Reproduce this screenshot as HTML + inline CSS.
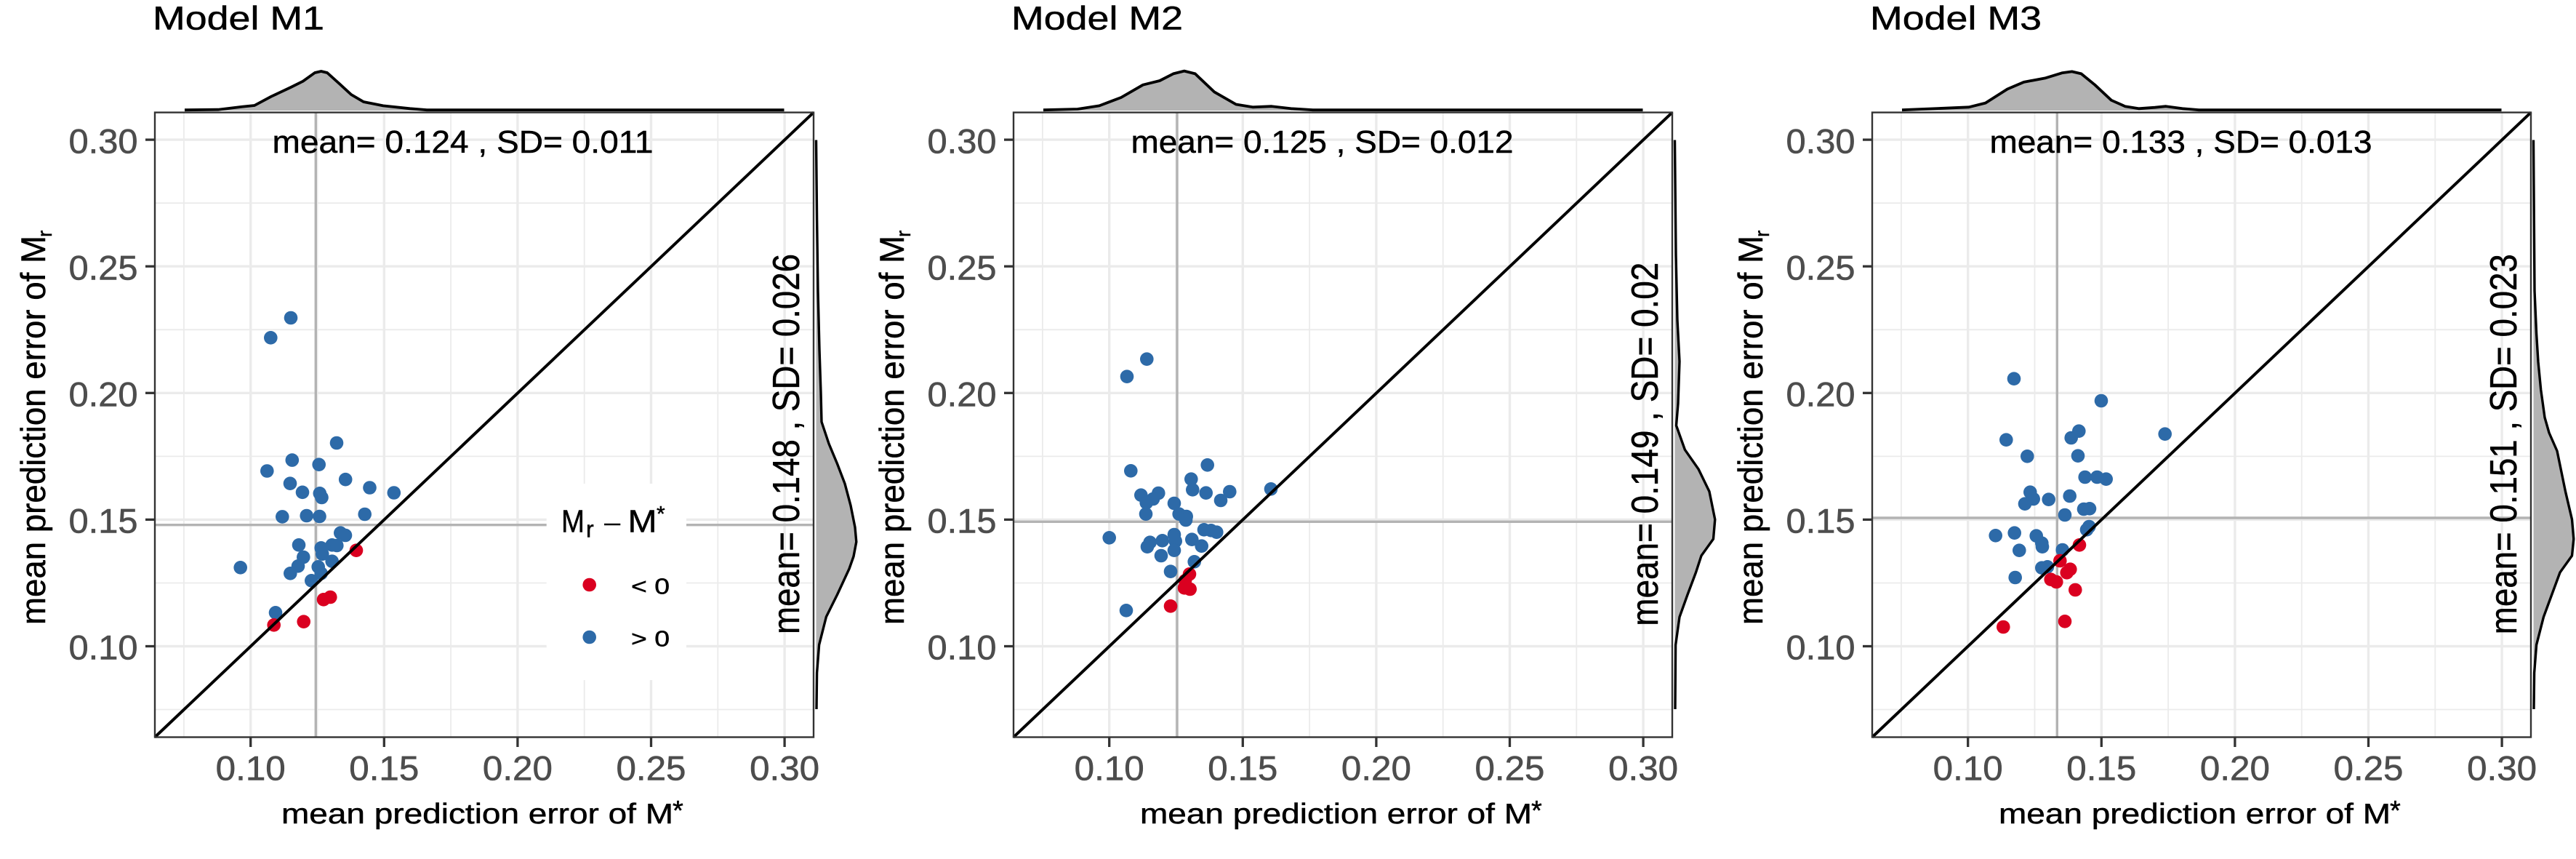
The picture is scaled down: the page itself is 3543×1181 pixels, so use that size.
<!DOCTYPE html>
<html><head><meta charset="utf-8">
<style>html,body{margin:0;padding:0;background:#fff}svg{display:block}</style>
</head>
<body>
<svg width="3543" height="1181" viewBox="0 0 3543 1181" xmlns="http://www.w3.org/2000/svg" font-family="'Liberation Sans', Arial, sans-serif">
<rect width="3543" height="1181" fill="#fff"/>

<!-- ================= PANEL 1 ================= -->
<g transform="translate(0,0)">
  <g stroke="#EBEBEB" stroke-width="1.8">
    <line x1="252.9" y1="154.6" x2="252.9" y2="1013.5"/><line x1="436.5" y1="154.6" x2="436.5" y2="1013.5"/><line x1="620.1" y1="154.6" x2="620.1" y2="1013.5"/><line x1="803.7" y1="154.6" x2="803.7" y2="1013.5"/><line x1="987.3" y1="154.6" x2="987.3" y2="1013.5"/>
    <line x1="213" y1="975.5" x2="1119" y2="975.5"/><line x1="213" y1="801.5" x2="1119" y2="801.5"/><line x1="213" y1="627.4" x2="1119" y2="627.4"/><line x1="213" y1="453.3" x2="1119" y2="453.3"/><line x1="213" y1="279.2" x2="1119" y2="279.2"/>
  </g>
  <g stroke="#EBEBEB" stroke-width="3.4">
    <line x1="344.7" y1="154.6" x2="344.7" y2="1013.5"/><line x1="528.3" y1="154.6" x2="528.3" y2="1013.5"/><line x1="711.9" y1="154.6" x2="711.9" y2="1013.5"/><line x1="895.5" y1="154.6" x2="895.5" y2="1013.5"/><line x1="1079.1" y1="154.6" x2="1079.1" y2="1013.5"/>
    <line x1="213" y1="888.5" x2="1119" y2="888.5"/><line x1="213" y1="714.4" x2="1119" y2="714.4"/><line x1="213" y1="540.3" x2="1119" y2="540.3"/><line x1="213" y1="366.2" x2="1119" y2="366.2"/><line x1="213" y1="192.1" x2="1119" y2="192.1"/>
  </g>
  <g stroke="#B3B3B3" stroke-width="3.4">
    <line x1="434.3" y1="154.6" x2="434.3" y2="1013.5"/>
    <line x1="213" y1="721.7" x2="1119" y2="721.7"/>
  </g>
  <g fill="#2D6AA8">
    <circle cx="400" cy="437" r="9.3"/><circle cx="372.3" cy="464.3" r="9.3"/><circle cx="463" cy="609" r="9.3"/><circle cx="401.8" cy="632.6" r="9.3"/><circle cx="438.7" cy="638.7" r="9.3"/><circle cx="367.3" cy="647.5" r="9.3"/><circle cx="475.2" cy="659.2" r="9.3"/><circle cx="399" cy="664.7" r="9.3"/><circle cx="416" cy="676.8" r="9.3"/><circle cx="439.8" cy="678.3" r="9.3"/><circle cx="442.5" cy="684" r="9.3"/><circle cx="508.5" cy="670.5" r="9.3"/><circle cx="541.8" cy="677.5" r="9.3"/><circle cx="388.3" cy="710.4" r="9.3"/><circle cx="421.7" cy="709" r="9.3"/><circle cx="439.5" cy="710" r="9.3"/><circle cx="501.7" cy="707" r="9.3"/><circle cx="468.3" cy="732.7" r="9.3"/><circle cx="475" cy="736" r="9.3"/><circle cx="411" cy="749.3" r="9.3"/><circle cx="441.7" cy="753.3" r="9.3"/><circle cx="456.7" cy="749.3" r="9.3"/><circle cx="463.3" cy="750" r="9.3"/><circle cx="417.3" cy="766" r="9.3"/><circle cx="456.7" cy="771.7" r="9.3"/><circle cx="443.3" cy="761.7" r="9.3"/><circle cx="410" cy="778.3" r="9.3"/><circle cx="437.7" cy="779.3" r="9.3"/><circle cx="330.7" cy="780.3" r="9.3"/><circle cx="399.3" cy="788.3" r="9.3"/><circle cx="441.7" cy="788.3" r="9.3"/><circle cx="428.3" cy="798.3" r="9.3"/><circle cx="379" cy="842.3" r="9.3"/>
  </g>
  <g fill="#DA0020">
    <circle cx="490" cy="756.7" r="9.3"/><circle cx="445" cy="824.3" r="9.3"/><circle cx="454.3" cy="821" r="9.3"/><circle cx="376.7" cy="859.3" r="9.3"/><circle cx="417.7" cy="854.7" r="9.3"/>
  </g>
  <line x1="213" y1="1013.5" x2="1119" y2="154.6" stroke="#000" stroke-width="4"/>
  <rect x="213" y="154.6" width="906" height="858.9" fill="none" stroke="#333" stroke-width="2.4"/>
  <g stroke="#333" stroke-width="3.3">
    <line x1="200" y1="888.5" x2="213" y2="888.5"/><line x1="200" y1="714.4" x2="213" y2="714.4"/><line x1="200" y1="540.3" x2="213" y2="540.3"/><line x1="200" y1="366.2" x2="213" y2="366.2"/><line x1="200" y1="192.1" x2="213" y2="192.1"/>
    <line x1="344.7" y1="1013.5" x2="344.7" y2="1027"/><line x1="528.3" y1="1013.5" x2="528.3" y2="1027"/><line x1="711.9" y1="1013.5" x2="711.9" y2="1027"/><line x1="895.5" y1="1013.5" x2="895.5" y2="1027"/><line x1="1079.1" y1="1013.5" x2="1079.1" y2="1027"/>
  </g>
  <g fill="#4D4D4D" stroke="#4D4D4D" stroke-width="0.6" font-size="47">
    <text x="189.5" y="906.7" text-anchor="end" textLength="95" lengthAdjust="spacingAndGlyphs">0.10</text>
    <text x="189.5" y="732.6" text-anchor="end" textLength="95" lengthAdjust="spacingAndGlyphs">0.15</text>
    <text x="189.5" y="558.5" text-anchor="end" textLength="95" lengthAdjust="spacingAndGlyphs">0.20</text>
    <text x="189.5" y="384.4" text-anchor="end" textLength="95" lengthAdjust="spacingAndGlyphs">0.25</text>
    <text x="189.5" y="210.5" text-anchor="end" textLength="95" lengthAdjust="spacingAndGlyphs">0.30</text>
    <text x="344.7" y="1072.5" text-anchor="middle" textLength="96" lengthAdjust="spacingAndGlyphs">0.10</text>
    <text x="528.3" y="1072.5" text-anchor="middle" textLength="96" lengthAdjust="spacingAndGlyphs">0.15</text>
    <text x="711.9" y="1072.5" text-anchor="middle" textLength="96" lengthAdjust="spacingAndGlyphs">0.20</text>
    <text x="895.5" y="1072.5" text-anchor="middle" textLength="96" lengthAdjust="spacingAndGlyphs">0.25</text>
    <text x="1079.1" y="1072.5" text-anchor="middle" textLength="96" lengthAdjust="spacingAndGlyphs">0.30</text>
  </g>
  <g fill="#000" stroke="#000" stroke-width="0.5">
  <text x="387" y="1132" font-size="39" textLength="539" lengthAdjust="spacingAndGlyphs">mean prediction error of M</text>
  <text x="925" y="1127" font-size="38">*</text>
  <text transform="translate(62,859) rotate(-90)" font-size="47" textLength="535" lengthAdjust="spacingAndGlyphs">mean prediction error of M</text>
  <text transform="translate(71,326) rotate(-90)" font-size="28">r</text>
  <text x="210" y="40.7" font-size="45" textLength="236" lengthAdjust="spacingAndGlyphs">Model M1</text>
  <text x="636.5" y="210" font-size="44" text-anchor="middle" textLength="524" lengthAdjust="spacingAndGlyphs">mean= 0.124 , SD= 0.011</text>
  <text transform="translate(1099,610.5) rotate(-90)" font-size="52" text-anchor="middle" textLength="523" lengthAdjust="spacingAndGlyphs">mean= 0.148 , SD= 0.026</text>
  </g>
  <path d="M254,152 L300,150.7 L333,146.7 L350,145 L373,132.7 L400,120 L416.7,111.7 L433,100 L441.7,98 L450,100 L466.7,115 L483,130 L500,140 L527,145.4 L564,149.3 L587,151.2 L1078.5,151.2 L1078.5,152 Z" fill="#B3B3B3"/>
  <polyline points="254,151.2 300,150.7 333,146.7 350,145 373,132.7 400,120 416.7,111.7 433,100 441.7,98 450,100 466.7,115 483,130 500,140 527,145.4 564,149.3 587,151.2 1078.5,151.2" fill="none" stroke="#000" stroke-width="3.8" stroke-linejoin="round"/>
  <path d="M1122.5,192.5 L1123.6,300 L1125,400 L1127,480 L1129,540 L1130,580 L1140,610 L1151.5,637.5 L1162,665 L1170,695 L1176,725 L1177.8,745 L1174,765 L1168,782 L1151.5,817.6 L1136.4,848 L1126.6,886.6 L1123.6,925 L1123,975 L1122.5,975 Z" fill="#B3B3B3"/>
  <polyline points="1122.5,192.5 1123.6,300 1125,400 1127,480 1129,540 1130,580 1140,610 1151.5,637.5 1162,665 1170,695 1176,725 1177.8,745 1174,765 1168,782 1151.5,817.6 1136.4,848 1126.6,886.6 1123.6,925 1123,975" fill="none" stroke="#000" stroke-width="3.4" stroke-linejoin="round"/>
  <!-- legend -->
  <rect x="751.7" y="665" width="192.3" height="270" fill="#fff"/>
  <g fill="#000" stroke="#000" stroke-width="0.5">
  <text x="772" y="731.7" font-size="44" textLength="32" lengthAdjust="spacingAndGlyphs">M</text>
  <text x="806" y="738.3" font-size="32">r</text>
  <text x="863.5" y="731.7" font-size="44" textLength="40" lengthAdjust="spacingAndGlyphs">M</text>
  <text x="903" y="716.5" font-size="30">*</text>
  <text x="868" y="816.7" font-size="31" textLength="53" lengthAdjust="spacingAndGlyphs">&lt; 0</text>
  <text x="868" y="888.3" font-size="31" textLength="53" lengthAdjust="spacingAndGlyphs">&gt; 0</text>
  </g>
  <line x1="831" y1="721" x2="853.3" y2="721" stroke="#000" stroke-width="2.6"/>
  <circle cx="810.7" cy="804" r="9.3" fill="#DA0020"/>
  <circle cx="810.7" cy="876" r="9.3" fill="#2D6AA8"/>
</g>

<!-- ================= PANEL 2 ================= -->
<g transform="translate(1181,0)">
  <g stroke="#EBEBEB" stroke-width="1.8">
    <line x1="252.9" y1="154.6" x2="252.9" y2="1013.5"/><line x1="436.5" y1="154.6" x2="436.5" y2="1013.5"/><line x1="620.1" y1="154.6" x2="620.1" y2="1013.5"/><line x1="803.7" y1="154.6" x2="803.7" y2="1013.5"/><line x1="987.3" y1="154.6" x2="987.3" y2="1013.5"/>
    <line x1="213" y1="975.5" x2="1119" y2="975.5"/><line x1="213" y1="801.5" x2="1119" y2="801.5"/><line x1="213" y1="627.4" x2="1119" y2="627.4"/><line x1="213" y1="453.3" x2="1119" y2="453.3"/><line x1="213" y1="279.2" x2="1119" y2="279.2"/>
  </g>
  <g stroke="#EBEBEB" stroke-width="3.4">
    <line x1="344.7" y1="154.6" x2="344.7" y2="1013.5"/><line x1="528.3" y1="154.6" x2="528.3" y2="1013.5"/><line x1="711.9" y1="154.6" x2="711.9" y2="1013.5"/><line x1="895.5" y1="154.6" x2="895.5" y2="1013.5"/><line x1="1079.1" y1="154.6" x2="1079.1" y2="1013.5"/>
    <line x1="213" y1="888.5" x2="1119" y2="888.5"/><line x1="213" y1="714.4" x2="1119" y2="714.4"/><line x1="213" y1="540.3" x2="1119" y2="540.3"/><line x1="213" y1="366.2" x2="1119" y2="366.2"/><line x1="213" y1="192.1" x2="1119" y2="192.1"/>
  </g>
  <g stroke="#B3B3B3" stroke-width="3.4">
    <line x1="438" y1="154.6" x2="438" y2="1013.5"/>
    <line x1="213" y1="717.3" x2="1119" y2="717.3"/>
  </g>
  <g fill="#2D6AA8">
    <circle cx="396.3" cy="493.7" r="9.3"/><circle cx="369" cy="517.7" r="9.3"/><circle cx="374.3" cy="647.3" r="9.3"/><circle cx="479.7" cy="639.3" r="9.3"/><circle cx="457.3" cy="658.7" r="9.3"/><circle cx="459.3" cy="673.3" r="9.3"/><circle cx="477.7" cy="677.7" r="9.3"/><circle cx="510.3" cy="676" r="9.3"/><circle cx="498" cy="688" r="9.3"/><circle cx="567" cy="672.3" r="9.3"/><circle cx="388.3" cy="680.7" r="9.3"/><circle cx="412.3" cy="678" r="9.3"/><circle cx="405" cy="686" r="9.3"/><circle cx="395.7" cy="691.3" r="9.3"/><circle cx="395" cy="706.7" r="9.3"/><circle cx="434" cy="692" r="9.3"/><circle cx="440.7" cy="706.7" r="9.3"/><circle cx="450.7" cy="710" r="9.3"/><circle cx="450" cy="715" r="9.3"/><circle cx="344.7" cy="739.3" r="9.3"/><circle cx="475" cy="728.3" r="9.3"/><circle cx="484.7" cy="729.3" r="9.3"/><circle cx="492.3" cy="731.7" r="9.3"/><circle cx="434" cy="735" r="9.3"/><circle cx="435.7" cy="744" r="9.3"/><circle cx="400.7" cy="745.7" r="9.3"/><circle cx="397" cy="751.7" r="9.3"/><circle cx="417.7" cy="743.3" r="9.3"/><circle cx="458.3" cy="741.7" r="9.3"/><circle cx="471.7" cy="750.7" r="9.3"/><circle cx="434" cy="756.7" r="9.3"/><circle cx="416" cy="764" r="9.3"/><circle cx="461.7" cy="772.3" r="9.3"/><circle cx="429" cy="785.7" r="9.3"/><circle cx="368" cy="839.3" r="9.3"/>
  </g>
  <g fill="#DA0020">
    <circle cx="455" cy="789.3" r="9.3"/><circle cx="449" cy="798.3" r="9.3"/><circle cx="448" cy="808.3" r="9.3"/><circle cx="455.7" cy="810" r="9.3"/><circle cx="429" cy="833.3" r="9.3"/>
  </g>
  <line x1="213" y1="1013.5" x2="1119" y2="154.6" stroke="#000" stroke-width="4"/>
  <rect x="213" y="154.6" width="906" height="858.9" fill="none" stroke="#333" stroke-width="2.4"/>
  <g stroke="#333" stroke-width="3.3">
    <line x1="200" y1="888.5" x2="213" y2="888.5"/><line x1="200" y1="714.4" x2="213" y2="714.4"/><line x1="200" y1="540.3" x2="213" y2="540.3"/><line x1="200" y1="366.2" x2="213" y2="366.2"/><line x1="200" y1="192.1" x2="213" y2="192.1"/>
    <line x1="344.7" y1="1013.5" x2="344.7" y2="1027"/><line x1="528.3" y1="1013.5" x2="528.3" y2="1027"/><line x1="711.9" y1="1013.5" x2="711.9" y2="1027"/><line x1="895.5" y1="1013.5" x2="895.5" y2="1027"/><line x1="1079.1" y1="1013.5" x2="1079.1" y2="1027"/>
  </g>
  <g fill="#4D4D4D" stroke="#4D4D4D" stroke-width="0.6" font-size="47">
    <text x="189.5" y="906.7" text-anchor="end" textLength="95" lengthAdjust="spacingAndGlyphs">0.10</text>
    <text x="189.5" y="732.6" text-anchor="end" textLength="95" lengthAdjust="spacingAndGlyphs">0.15</text>
    <text x="189.5" y="558.5" text-anchor="end" textLength="95" lengthAdjust="spacingAndGlyphs">0.20</text>
    <text x="189.5" y="384.4" text-anchor="end" textLength="95" lengthAdjust="spacingAndGlyphs">0.25</text>
    <text x="189.5" y="210.5" text-anchor="end" textLength="95" lengthAdjust="spacingAndGlyphs">0.30</text>
    <text x="344.7" y="1072.5" text-anchor="middle" textLength="96" lengthAdjust="spacingAndGlyphs">0.10</text>
    <text x="528.3" y="1072.5" text-anchor="middle" textLength="96" lengthAdjust="spacingAndGlyphs">0.15</text>
    <text x="711.9" y="1072.5" text-anchor="middle" textLength="96" lengthAdjust="spacingAndGlyphs">0.20</text>
    <text x="895.5" y="1072.5" text-anchor="middle" textLength="96" lengthAdjust="spacingAndGlyphs">0.25</text>
    <text x="1079.1" y="1072.5" text-anchor="middle" textLength="96" lengthAdjust="spacingAndGlyphs">0.30</text>
  </g>
  <g fill="#000" stroke="#000" stroke-width="0.5">
  <text x="387" y="1132" font-size="39" textLength="539" lengthAdjust="spacingAndGlyphs">mean prediction error of M</text>
  <text x="925" y="1127" font-size="38">*</text>
  <text transform="translate(62,859) rotate(-90)" font-size="47" textLength="535" lengthAdjust="spacingAndGlyphs">mean prediction error of M</text>
  <text transform="translate(71,326) rotate(-90)" font-size="28">r</text>
  <text x="210" y="40.7" font-size="45" textLength="236" lengthAdjust="spacingAndGlyphs">Model M2</text>
  <text x="637.5" y="210" font-size="44" text-anchor="middle" textLength="526" lengthAdjust="spacingAndGlyphs">mean= 0.125 , SD= 0.012</text>
  <text transform="translate(1099,610.7) rotate(-90)" font-size="52" text-anchor="middle" textLength="500" lengthAdjust="spacingAndGlyphs">mean= 0.149 , SD= 0.02</text>
  </g>
  <path d="M254,152 L301,150 L331,145.4 L361,134 L391,116.7 L414,111 L432.7,101.4 L447.8,97.6 L462.8,101.4 L489,126.3 L519,143.5 L541.9,147.3 L568,146.2 L594.6,149.3 L624.7,151.2 L1078.5,151.2 L1078.5,152 Z" fill="#B3B3B3"/>
  <polyline points="254,151.2 301,150 331,145.4 361,134 391,116.7 414,111 432.7,101.4 447.8,97.6 462.8,101.4 489,126.3 519,143.5 541.9,147.3 568,146.2 594.6,149.3 624.7,151.2 1078.5,151.2" fill="none" stroke="#000" stroke-width="3.8" stroke-linejoin="round"/>
  <path d="M1122.5,192.5 L1124,350 L1126,440 L1129,497 L1127,555 L1124.5,585 L1136.4,618.3 L1155.2,645.2 L1170,675.8 L1177.8,714.2 L1175.5,741 L1159,764 L1151.5,787 L1140,817.6 L1129,848.3 L1123.6,886.6 L1123,975 L1122.5,975 Z" fill="#B3B3B3"/>
  <polyline points="1122.5,192.5 1124,350 1126,440 1129,497 1127,555 1124.5,585 1136.4,618.3 1155.2,645.2 1170,675.8 1177.8,714.2 1175.5,741 1159,764 1151.5,787 1140,817.6 1129,848.3 1123.6,886.6 1123,975" fill="none" stroke="#000" stroke-width="3.4" stroke-linejoin="round"/>
</g>

<!-- ================= PANEL 3 ================= -->
<g transform="translate(2362,0)">
  <g stroke="#EBEBEB" stroke-width="1.8">
    <line x1="252.9" y1="154.6" x2="252.9" y2="1013.5"/><line x1="436.5" y1="154.6" x2="436.5" y2="1013.5"/><line x1="620.1" y1="154.6" x2="620.1" y2="1013.5"/><line x1="803.7" y1="154.6" x2="803.7" y2="1013.5"/><line x1="987.3" y1="154.6" x2="987.3" y2="1013.5"/>
    <line x1="213" y1="975.5" x2="1119" y2="975.5"/><line x1="213" y1="801.5" x2="1119" y2="801.5"/><line x1="213" y1="627.4" x2="1119" y2="627.4"/><line x1="213" y1="453.3" x2="1119" y2="453.3"/><line x1="213" y1="279.2" x2="1119" y2="279.2"/>
  </g>
  <g stroke="#EBEBEB" stroke-width="3.4">
    <line x1="344.7" y1="154.6" x2="344.7" y2="1013.5"/><line x1="528.3" y1="154.6" x2="528.3" y2="1013.5"/><line x1="711.9" y1="154.6" x2="711.9" y2="1013.5"/><line x1="895.5" y1="154.6" x2="895.5" y2="1013.5"/><line x1="1079.1" y1="154.6" x2="1079.1" y2="1013.5"/>
    <line x1="213" y1="888.5" x2="1119" y2="888.5"/><line x1="213" y1="714.4" x2="1119" y2="714.4"/><line x1="213" y1="540.3" x2="1119" y2="540.3"/><line x1="213" y1="366.2" x2="1119" y2="366.2"/><line x1="213" y1="192.1" x2="1119" y2="192.1"/>
  </g>
  <g stroke="#B3B3B3" stroke-width="3.4">
    <line x1="467.3" y1="154.6" x2="467.3" y2="1013.5"/>
    <line x1="213" y1="712" x2="1119" y2="712"/>
  </g>
  <g fill="#2D6AA8">
    <circle cx="408" cy="520.7" r="9.3"/><circle cx="528" cy="551" r="9.3"/><circle cx="615.7" cy="596.7" r="9.3"/><circle cx="497.3" cy="592.7" r="9.3"/><circle cx="486.7" cy="602" r="9.3"/><circle cx="397.3" cy="604.7" r="9.3"/><circle cx="426.3" cy="627.3" r="9.3"/><circle cx="496" cy="626.7" r="9.3"/><circle cx="505.7" cy="656" r="9.3"/><circle cx="522.3" cy="656" r="9.3"/><circle cx="534.7" cy="658.7" r="9.3"/><circle cx="430.3" cy="676.7" r="9.3"/><circle cx="434.7" cy="686" r="9.3"/><circle cx="423" cy="692.7" r="9.3"/><circle cx="455.7" cy="686.7" r="9.3"/><circle cx="484.7" cy="682" r="9.3"/><circle cx="504" cy="700" r="9.3"/><circle cx="512" cy="699.3" r="9.3"/><circle cx="478" cy="708" r="9.3"/><circle cx="511.3" cy="724" r="9.3"/><circle cx="508" cy="728.3" r="9.3"/><circle cx="382.7" cy="736.3" r="9.3"/><circle cx="408.7" cy="732.7" r="9.3"/><circle cx="438.7" cy="736.7" r="9.3"/><circle cx="446.3" cy="746.7" r="9.3"/><circle cx="447" cy="751.7" r="9.3"/><circle cx="415.3" cy="756.7" r="9.3"/><circle cx="474.7" cy="756" r="9.3"/><circle cx="446.3" cy="780.7" r="9.3"/><circle cx="454" cy="779.3" r="9.3"/><circle cx="409.7" cy="794" r="9.3"/>
  </g>
  <g fill="#DA0020">
    <circle cx="498" cy="749.3" r="9.3"/><circle cx="471.3" cy="771" r="9.3"/><circle cx="485.3" cy="782.7" r="9.3"/><circle cx="480.7" cy="787.3" r="9.3"/><circle cx="458.7" cy="796.7" r="9.3"/><circle cx="466.3" cy="800" r="9.3"/><circle cx="492.3" cy="811" r="9.3"/><circle cx="478" cy="854.3" r="9.3"/><circle cx="393.3" cy="862" r="9.3"/>
  </g>
  <line x1="213" y1="1013.5" x2="1119" y2="154.6" stroke="#000" stroke-width="4"/>
  <rect x="213" y="154.6" width="906" height="858.9" fill="none" stroke="#333" stroke-width="2.4"/>
  <g stroke="#333" stroke-width="3.3">
    <line x1="200" y1="888.5" x2="213" y2="888.5"/><line x1="200" y1="714.4" x2="213" y2="714.4"/><line x1="200" y1="540.3" x2="213" y2="540.3"/><line x1="200" y1="366.2" x2="213" y2="366.2"/><line x1="200" y1="192.1" x2="213" y2="192.1"/>
    <line x1="344.7" y1="1013.5" x2="344.7" y2="1027"/><line x1="528.3" y1="1013.5" x2="528.3" y2="1027"/><line x1="711.9" y1="1013.5" x2="711.9" y2="1027"/><line x1="895.5" y1="1013.5" x2="895.5" y2="1027"/><line x1="1079.1" y1="1013.5" x2="1079.1" y2="1027"/>
  </g>
  <g fill="#4D4D4D" stroke="#4D4D4D" stroke-width="0.6" font-size="47">
    <text x="189.5" y="906.7" text-anchor="end" textLength="95" lengthAdjust="spacingAndGlyphs">0.10</text>
    <text x="189.5" y="732.6" text-anchor="end" textLength="95" lengthAdjust="spacingAndGlyphs">0.15</text>
    <text x="189.5" y="558.5" text-anchor="end" textLength="95" lengthAdjust="spacingAndGlyphs">0.20</text>
    <text x="189.5" y="384.4" text-anchor="end" textLength="95" lengthAdjust="spacingAndGlyphs">0.25</text>
    <text x="189.5" y="210.5" text-anchor="end" textLength="95" lengthAdjust="spacingAndGlyphs">0.30</text>
    <text x="344.7" y="1072.5" text-anchor="middle" textLength="96" lengthAdjust="spacingAndGlyphs">0.10</text>
    <text x="528.3" y="1072.5" text-anchor="middle" textLength="96" lengthAdjust="spacingAndGlyphs">0.15</text>
    <text x="711.9" y="1072.5" text-anchor="middle" textLength="96" lengthAdjust="spacingAndGlyphs">0.20</text>
    <text x="895.5" y="1072.5" text-anchor="middle" textLength="96" lengthAdjust="spacingAndGlyphs">0.25</text>
    <text x="1079.1" y="1072.5" text-anchor="middle" textLength="96" lengthAdjust="spacingAndGlyphs">0.30</text>
  </g>
  <g fill="#000" stroke="#000" stroke-width="0.5">
  <text x="387" y="1132" font-size="39" textLength="539" lengthAdjust="spacingAndGlyphs">mean prediction error of M</text>
  <text x="925" y="1127" font-size="38">*</text>
  <text transform="translate(62,859) rotate(-90)" font-size="47" textLength="535" lengthAdjust="spacingAndGlyphs">mean prediction error of M</text>
  <text transform="translate(71,326) rotate(-90)" font-size="28">r</text>
  <text x="210" y="40.7" font-size="45" textLength="236" lengthAdjust="spacingAndGlyphs">Model M3</text>
  <text x="637.5" y="210" font-size="44" text-anchor="middle" textLength="526" lengthAdjust="spacingAndGlyphs">mean= 0.133 , SD= 0.013</text>
  <text transform="translate(1099,610.7) rotate(-90)" font-size="52" text-anchor="middle" textLength="523" lengthAdjust="spacingAndGlyphs">mean= 0.151 , SD= 0.023</text>
  </g>
  <path d="M254,152 L346,147.3 L368.8,141.6 L398.9,122.5 L421.5,112.9 L451.6,107.2 L474,100.3 L487.7,98.4 L500.5,101.4 L519.3,116.7 L541.9,137.8 L560.7,146.2 L579.5,149.3 L602,147.7 L617,146.2 L639.7,149.3 L662.3,151.2 L1078.5,151.2 L1078.5,152 Z" fill="#B3B3B3"/>
  <polyline points="254,151.2 346,147.3 368.8,141.6 398.9,122.5 421.5,112.9 451.6,107.2 474,100.3 487.7,98.4 500.5,101.4 519.3,116.7 541.9,137.8 560.7,146.2 579.5,149.3 602,147.7 617,146.2 639.7,149.3 662.3,151.2 1078.5,151.2" fill="none" stroke="#000" stroke-width="3.8" stroke-linejoin="round"/>
  <path d="M1122.5,192.5 L1124,400 L1126.6,459 L1129,497.5 L1132.7,535.8 L1138,574 L1144,595 L1155,620 L1166.5,675.8 L1175.5,714.2 L1177.8,741 L1175.5,764 L1159,787 L1147.7,817.6 L1136.4,848.3 L1126.6,886.6 L1123.6,925 L1123,975 L1122.5,975 Z" fill="#B3B3B3"/>
  <polyline points="1122.5,192.5 1124,400 1126.6,459 1129,497.5 1132.7,535.8 1138,574 1144,595 1155,620 1166.5,675.8 1175.5,714.2 1177.8,741 1175.5,764 1159,787 1147.7,817.6 1136.4,848.3 1126.6,886.6 1123.6,925 1123,975" fill="none" stroke="#000" stroke-width="3.4" stroke-linejoin="round"/>
</g>
</svg>
</body>
</html>
